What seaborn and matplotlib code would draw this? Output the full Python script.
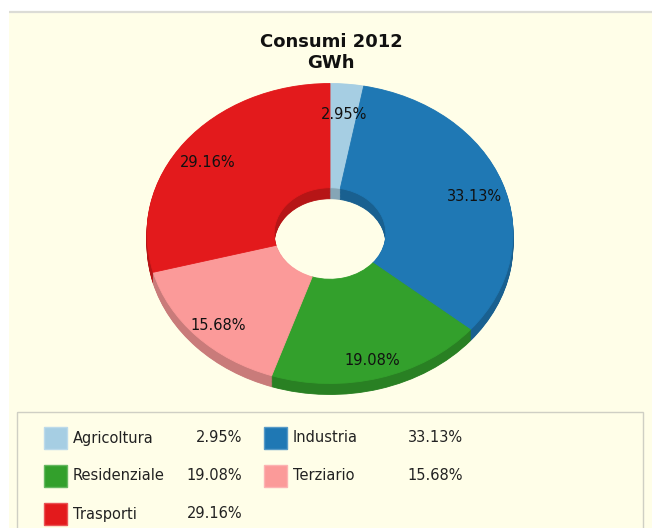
import numpy as np
import matplotlib
matplotlib.use("Agg")
import matplotlib.pyplot as plt
from matplotlib.patches import Rectangle
import matplotlib.colors as mcolors
import seaborn as sns

# Energy consumption shares, 2012 (GWh)
categories = ["Agricoltura", "Industria", "Residenziale", "Terziario", "Trasporti"]
shares = [2.95, 33.13, 19.08, 15.68, 29.16]
title_text = "Consumi 2012\nGWh"

sns.set_theme(style="white")
plt.rcParams["font.family"] = ["DejaVu Sans"]

paired = sns.color_palette("Paired", 6)
colors = [paired[0], paired[1], paired[3], paired[4], paired[5]]
side_colors = [tuple(c * 0.8 for c in col) for col in colors]

W, H = 652, 528
fig = plt.figure(figsize=(W / 100, H / 100), dpi=100)
fig.patch.set_facecolor("white")

# pixel-space overlay for the panel, title and legend
bg = fig.add_axes([0, 0, 1, 1], zorder=0)
bg.set_xlim(0, W)
bg.set_ylim(H, 0)
bg.axis("off")
panel_color = "#fffee8"
bg.add_patch(Rectangle((9, 11), W - 9, H - 11, facecolor=panel_color, edgecolor="none"))
bg.plot([9, W], [11.5, 11.5], color="#dcdcd6", lw=1.6, solid_capstyle="butt")

bg.text(331, 52.5, title_text, ha="center", va="center", multialignment="center",
        fontsize=13, fontweight="bold", color="#111111", linespacing=1.15)

# legend box
bg.add_patch(Rectangle((17, 412), 626, 130, facecolor="none", edgecolor="#cfcfc4", lw=1.0))
col_x = [(44, 73, 242), (264, 293, 463)]
row_y = [438, 476, 514]
for i, (name, val, col) in enumerate(zip(categories, shares, colors)):
    r, c = divmod(i, 2)
    sx, tx, px = col_x[c]
    cy = row_y[r]
    edge = mcolors.to_rgb(col)
    edge = tuple(0.75 * e + 0.25 for e in edge)
    bg.add_patch(Rectangle((sx, cy - 11), 23, 22, facecolor=col, edgecolor=edge, lw=1.0))
    bg.text(tx, cy, name, ha="left", va="center", fontsize=10.5, color="#222222")
    bg.text(px, cy, f"{val:.2f}%", ha="right", va="center", fontsize=10.5, color="#222222")

# donut axes: 1 data unit = 183 px across, 150 px down (tilted view)
rx, ry = 183.0, 150.0
cx_px, cy_px = 330.0, 233.5
ax_left, ax_right, ax_top, ax_bottom = 130, 530, 70, 410
ax = fig.add_axes([ax_left / W, (H - ax_bottom) / H,
                   (ax_right - ax_left) / W, (ax_bottom - ax_top) / H], zorder=1)
ax.patch.set_alpha(0)

inner = 0.305
depth = 11.0 / ry
n_layers = 14
for k in range(n_layers, 0, -1):
    d = depth * k / n_layers
    side_wedges, _ = ax.pie(shares, colors=side_colors, startangle=90, counterclock=False,
                            center=(0, -d), radius=1.0,
                            wedgeprops=dict(width=1 - inner, linewidth=0.6))
    for w, col in zip(side_wedges, side_colors):
        w.set_edgecolor(col)

wedges, texts, autotexts = ax.pie(
    shares, colors=colors, startangle=90, counterclock=False,
    radius=1.0, autopct="%.2f%%", pctdistance=0.84,
    wedgeprops=dict(width=1 - inner, linewidth=0.6),
    textprops=dict(fontsize=10.5, color="#111111"))
for w, col in zip(wedges, colors):
    w.set_edgecolor(col)
for t in autotexts:
    x, y = t.get_position()
    t.set_position((x, y - 6.0 / ry))

ax.set_aspect("auto")
ax.set_xlim(-(cx_px - ax_left) / rx, (ax_right - cx_px) / rx)
ax.set_ylim(-(ax_bottom - cy_px) / ry, (cy_px - ax_top) / ry)
ax.axis("off")

fig.savefig("out.png", dpi=100, facecolor=fig.get_facecolor())
